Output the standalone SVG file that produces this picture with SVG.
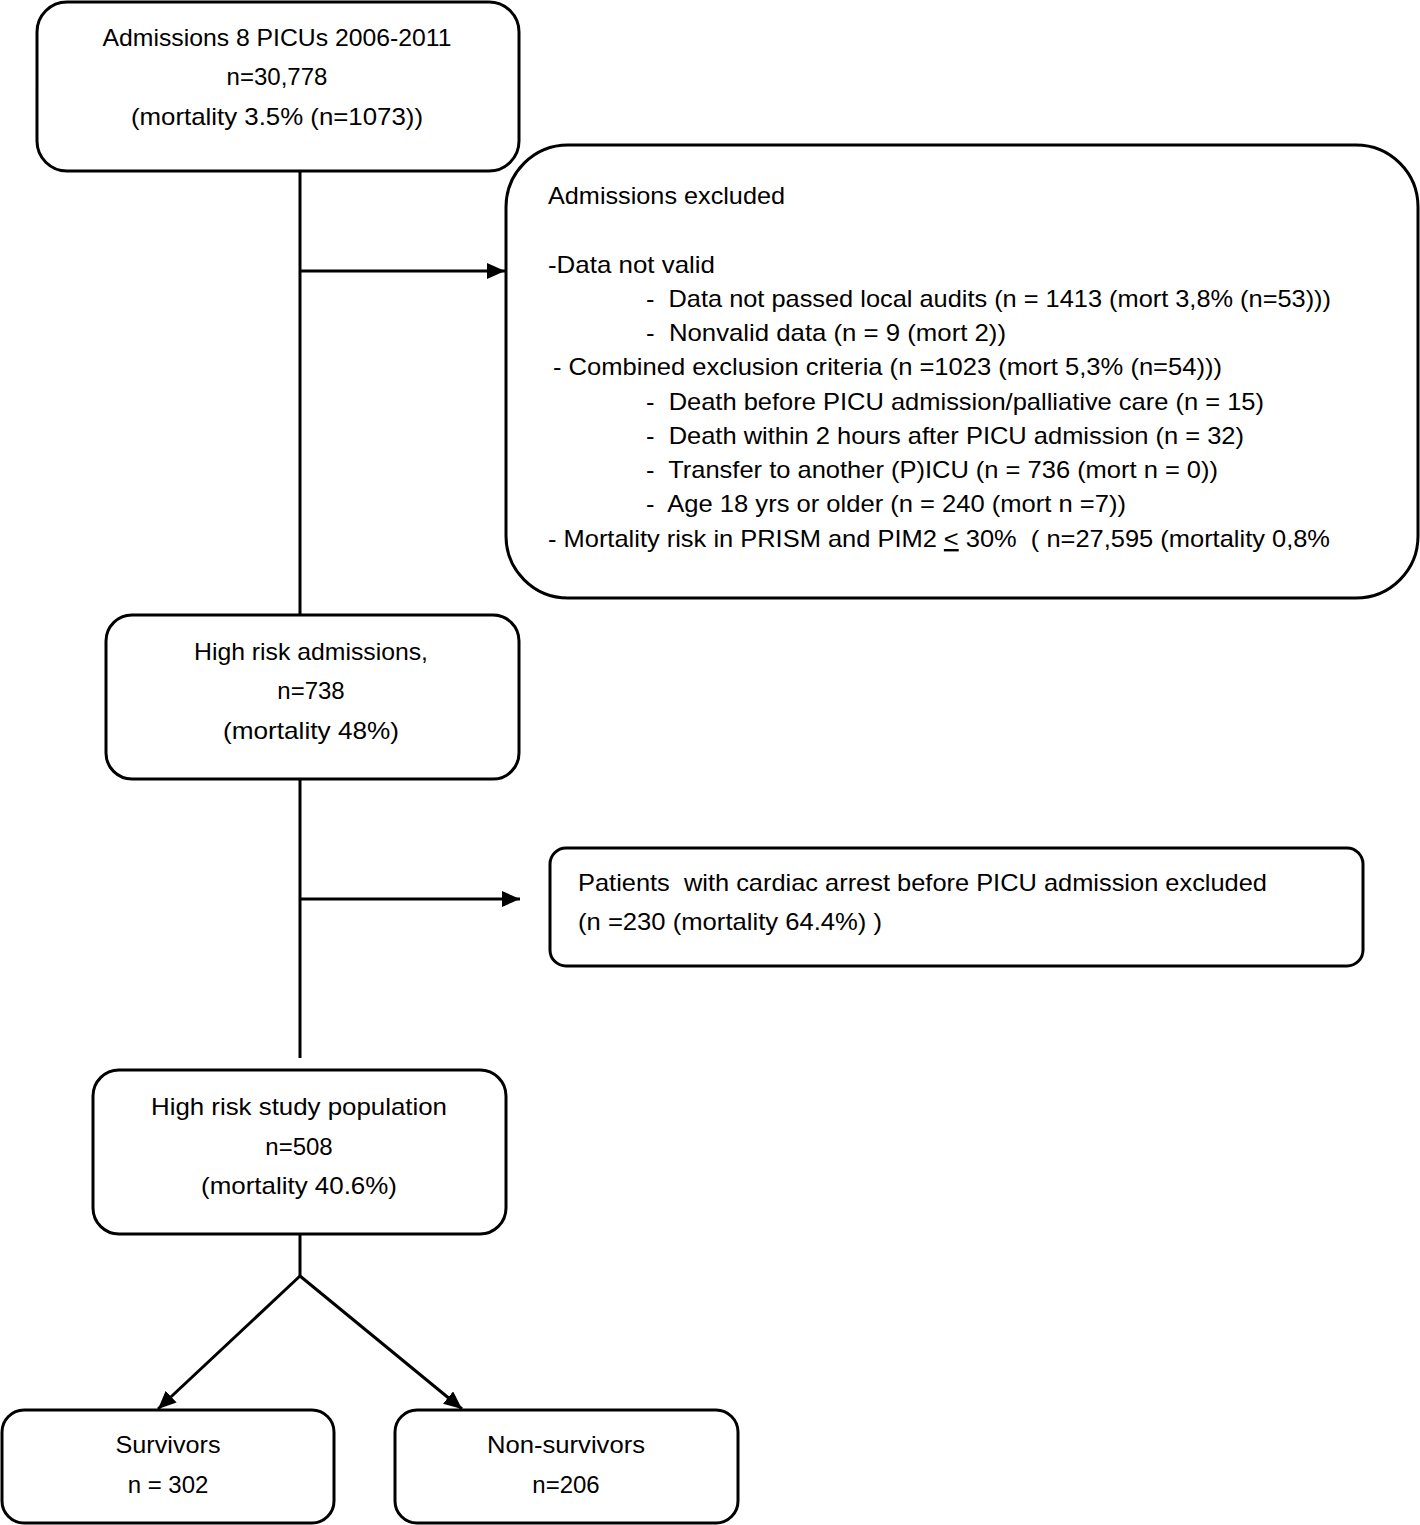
<svg xmlns="http://www.w3.org/2000/svg" width="1420" height="1525" viewBox="0 0 1420 1525">
<style>
.box{fill:#fff;stroke:#000;stroke-width:3}
.t{font-family:"Liberation Sans",Arial,sans-serif;font-size:24px;fill:#000}
.c{text-anchor:middle}
.ln{stroke:#000;stroke-width:3;fill:none}
</style>
<defs>
<marker id="ah" markerUnits="userSpaceOnUse" markerWidth="18" markerHeight="16" viewBox="0 0 18 16" refX="18" refY="8" orient="auto">
<path d="M0,0 L18,8 L0,16 Z" fill="#000"/>
</marker>
</defs>
<rect width="1420" height="1525" fill="#fff"/>
<g id="connectors">
<line class="ln" x1="300" y1="171" x2="300" y2="615"/>
<line class="ln" x1="300" y1="271" x2="505" y2="271" marker-end="url(#ah)"/>
<line class="ln" x1="300" y1="779" x2="300" y2="1058"/>
<line class="ln" x1="300" y1="899" x2="520" y2="899" marker-end="url(#ah)"/>
<polyline class="ln" points="300,1234 300,1276"/>
<line class="ln" x1="300" y1="1276" x2="158" y2="1409" marker-end="url(#ah)"/>
<line class="ln" x1="300" y1="1276" x2="462" y2="1409" marker-end="url(#ah)"/>
</g>
<g id="n1">
<rect class="box" x="37" y="2" width="482" height="169" rx="30"/>
<text class="t c" x="277" y="46" textLength="349" lengthAdjust="spacingAndGlyphs">Admissions 8 PICUs 2006-2011</text>
<text class="t c" x="277" y="85">n=30,778</text>
<text class="t c" x="277" y="125" textLength="292" lengthAdjust="spacingAndGlyphs">(mortality 3.5% (n=1073))</text>
</g>
<g id="n2">
<rect class="box" x="506" y="145" width="912" height="453" rx="62"/>
<text class="t" x="548" y="204" textLength="237" lengthAdjust="spacingAndGlyphs">Admissions excluded</text>
<text class="t" x="548" y="273" textLength="167" lengthAdjust="spacingAndGlyphs">-Data not valid</text>
<text class="t" x="646" y="307" textLength="685" lengthAdjust="spacingAndGlyphs" xml:space="preserve">-  Data not passed local audits (n = 1413 (mort 3,8% (n=53)))</text>
<text class="t" x="646" y="341" textLength="360" lengthAdjust="spacingAndGlyphs" xml:space="preserve">-  Nonvalid data (n = 9 (mort 2))</text>
<text class="t" x="553" y="375" textLength="669" lengthAdjust="spacingAndGlyphs">- Combined exclusion criteria (n =1023 (mort 5,3% (n=54)))</text>
<text class="t" x="646" y="410" textLength="618" lengthAdjust="spacingAndGlyphs" xml:space="preserve">-  Death before PICU admission/palliative care (n = 15)</text>
<text class="t" x="646" y="444" textLength="598" lengthAdjust="spacingAndGlyphs" xml:space="preserve">-  Death within 2 hours after PICU admission (n = 32)</text>
<text class="t" x="646" y="478" textLength="572" lengthAdjust="spacingAndGlyphs" xml:space="preserve">-  Transfer to another (P)ICU (n = 736 (mort n = 0))</text>
<text class="t" x="646" y="512" textLength="480" lengthAdjust="spacingAndGlyphs" xml:space="preserve">-  Age 18 yrs or older (n = 240 (mort n =7))</text>
<text class="t" x="548" y="547" textLength="782" lengthAdjust="spacingAndGlyphs" xml:space="preserve">- Mortality risk in PRISM and PIM2 <tspan text-decoration="underline">&lt;</tspan> 30%  ( n=27,595 (mortality 0,8%</text>
</g>
<g id="n3">
<rect class="box" x="106" y="615" width="413" height="164" rx="26"/>
<text class="t c" x="311" y="660" textLength="234" lengthAdjust="spacingAndGlyphs">High risk admissions,</text>
<text class="t c" x="311" y="699">n=738</text>
<text class="t c" x="311" y="739" textLength="176" lengthAdjust="spacingAndGlyphs">(mortality 48%)</text>
</g>
<g id="n4">
<rect class="box" x="550" y="848" width="813" height="118" rx="16"/>
<text class="t" x="578" y="891" textLength="689" lengthAdjust="spacingAndGlyphs" xml:space="preserve">Patients  with cardiac arrest before PICU admission excluded</text>
<text class="t" x="578" y="930" textLength="304" lengthAdjust="spacingAndGlyphs">(n =230 (mortality 64.4%) )</text>
</g>
<g id="n5">
<rect class="box" x="93" y="1070" width="413" height="164" rx="26"/>
<text class="t c" x="299" y="1115" textLength="296" lengthAdjust="spacingAndGlyphs">High risk study population</text>
<text class="t c" x="299" y="1155">n=508</text>
<text class="t c" x="299" y="1194" textLength="196" lengthAdjust="spacingAndGlyphs">(mortality 40.6%)</text>
</g>
<g id="n6">
<rect class="box" x="2" y="1410" width="332" height="113" rx="22"/>
<text class="t c" x="168" y="1453" textLength="105" lengthAdjust="spacingAndGlyphs">Survivors</text>
<text class="t c" x="168" y="1493">n = 302</text>
</g>
<g id="n7">
<rect class="box" x="395" y="1410" width="343" height="113" rx="22"/>
<text class="t c" x="566" y="1453" textLength="158" lengthAdjust="spacingAndGlyphs">Non-survivors</text>
<text class="t c" x="566" y="1493">n=206</text>
</g>
</svg>
